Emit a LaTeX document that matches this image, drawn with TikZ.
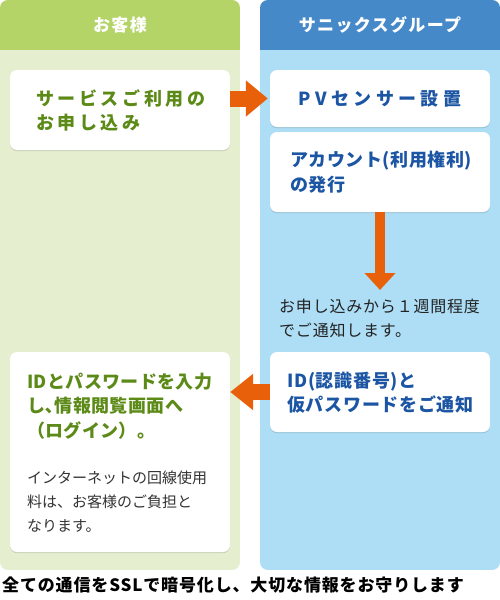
\documentclass[tikz,border=0pt]{standalone}
\usepackage{fontspec}
\setmainfont{Noto Sans CJK JP}
\usetikzlibrary{arrows.meta,shadows}
\definecolor{lhead}{HTML}{B4D468}
\definecolor{lbody}{HTML}{E5EFCF}
\definecolor{rhead}{HTML}{4589C9}
\definecolor{rbody}{HTML}{ADDEF5}
\definecolor{arrorange}{HTML}{E8600A}
\definecolor{txtgreen}{HTML}{5C8A17}
\definecolor{txtblue}{HTML}{1B55A3}
\definecolor{txtgrey}{HTML}{333333}
\definecolor{txtdark}{HTML}{222222}
\begin{document}
\begin{tikzpicture}[x=1pt,y=-1pt,
  card/.style={fill=white, rounded corners=7pt, inner sep=0pt, minimum width=220pt,
    drop shadow={shadow xshift=0pt, shadow yshift=-1.2pt, opacity=0.12, fill=black}},
  hdrtext/.style={text=white, inner sep=0pt, font=\fontsize{17}{20}\selectfont\bfseries\addfontfeature{LetterSpace=8}},
  greentext/.style={text=txtgreen, inner sep=0pt, align=left, anchor=west},
  bluetext/.style={text=txtblue, inner sep=0pt, align=left, anchor=west},
  blockarrow/.style={draw=arrorange, fill=arrorange}
]
\useasboundingbox (0,0) rectangle (500,600);
% columns
\begin{scope}
  \clip[rounded corners=8pt] (0,0) rectangle (240,570);
  \fill[lbody] (0,0) rectangle (240,570);
  \fill[lhead] (0,0) rectangle (240,50);
\end{scope}
\begin{scope}
  \clip[rounded corners=8pt] (260,0) rectangle (500,570);
  \fill[rbody] (260,0) rectangle (500,570);
  \fill[rhead] (260,0) rectangle (500,50);
\end{scope}
\node[hdrtext] (h1) at (120,25) {お客様};
\node[hdrtext] (h2) at (380,25) {サニックスグループ};
% cards
\node[card, minimum height=80pt] (b1) at (120,110) {};
\node[card, minimum height=57pt] (r1) at (380,98.5) {};
\node[card, minimum height=80pt] (r2) at (380,172) {};
\node[card, minimum height=80pt] (r3) at (380,392) {};
\node[card, minimum height=200pt] (b2) at (120,452) {};
\coordinate (dn) at (380,290);
% arrows
\draw[blockarrow, line width=16pt, -{Triangle[length=22pt,width=35pt]}, shorten >=2pt] (b1.east |- r1.west) -- (r1.west);
\draw[blockarrow, line width=10pt, -{Triangle[length=17pt,width=30pt]}] (r2.south) -- (dn);
\draw[blockarrow, line width=16pt, -{Triangle[length=23pt,width=35pt]}] (r3.west) -- (b2.east |- r3.west);
% texts
\node[greentext, font=\fontsize{18}{24}\selectfont\bfseries\addfontfeature{LetterSpace=20}] (t1) at (36,110) {サービスご利用の\\お申し込み};
\node[text=txtblue, inner sep=0pt, font=\fontsize{18}{24}\selectfont\bfseries\addfontfeature{LetterSpace=24}] (t2) at (r1) {PVセンサー設置};
\node[bluetext, font=\fontsize{18}{25}\selectfont\bfseries\addfontfeature{LetterSpace=3}] (t3) at (290,172) {アカウント(利用権利)\\の発行};
\node[text=txtdark, inner sep=0pt, align=left, anchor=west, font=\fontsize{16}{23.5}\selectfont\addfontfeature{LetterSpace=5}] (t4) at (279,318.5) {お申し込みから１週間程度\\でご通知します。};
\node[bluetext, font=\fontsize{18}{24}\selectfont\bfseries\addfontfeature{LetterSpace=4}] (t5) at (287,393) {ID(認識番号)と\\仮パスワードをご通知};
\node[greentext, font=\fontsize{18}{24.5}\selectfont\bfseries\addfontfeature{LetterSpace=2}] (t6) at (27,406) {IDとパスワードを入力\\し､情報閲覧画面へ\\（ログイン）。};
\node[text=txtgrey, inner sep=0pt, align=left, anchor=west, font=\fontsize{15}{24}\selectfont] (t7) at (27,502) {インターネットの回線使用\\料は、お客様のご負担と\\なります。};
\node[text=black, inner sep=0pt, anchor=west, font=\fontsize{17}{20}\selectfont\bfseries\addfontfeature{LetterSpace=5}] (t8) at (2,585) {全ての通信をSSLで暗号化し、大切な情報をお守りします};
\end{tikzpicture}
\end{document}
